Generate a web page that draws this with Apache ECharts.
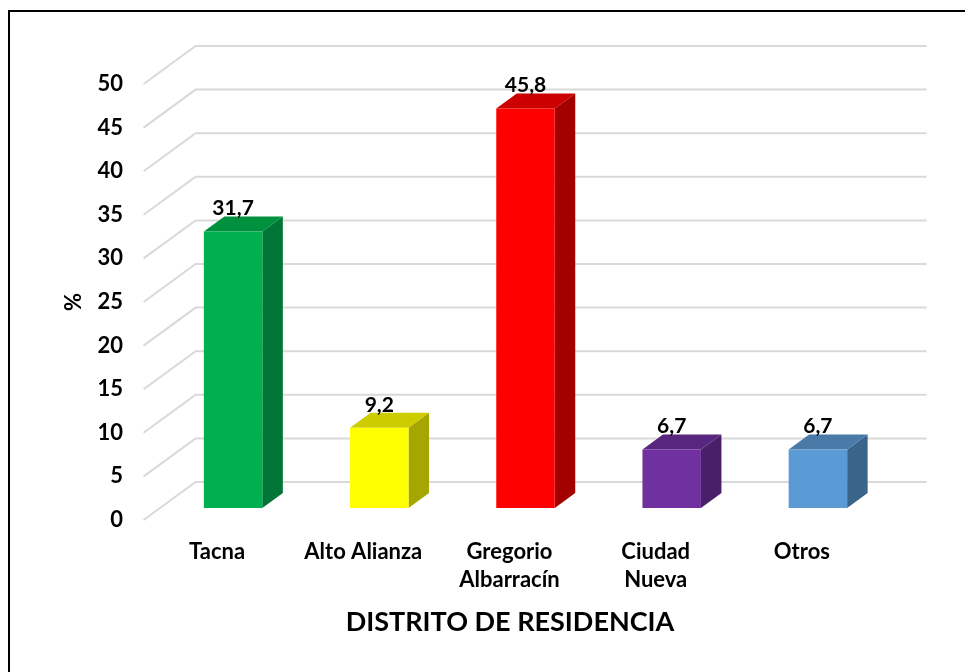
<!DOCTYPE html>
<html>
<head>
<meta charset="utf-8">
<script src="https://cdn.jsdelivr.net/npm/echarts@6/dist/echarts.min.js"></script>
<style>
  html, body { margin: 0; padding: 0; background: #fff; }
  #main { width: 965px; height: 672px; }
</style>
</head>
<body>
<div id="main"></div>
<script>
// datos
var categorias = ['Tacna', 'Alto Alianza', 'Gregorio\nAlbarracín', 'Ciudad\nNueva', 'Otros'];
var porcentajes = [31.7, 9.2, 45.8, 6.7, 6.7];
var ticks = [0, 5, 10, 15, 20, 25, 30, 35, 40, 45, 50];

var frontColor = ['#00B050', '#FFFF00', '#FF0000', '#7030A0', '#5B9BD5'];
var topColor = ['#00913F', '#CCCC00', '#CC0000', '#59267F', '#4A7BA8'];
var sideColor = ['#007535', '#A6A600', '#A30000', '#4A1F69', '#3A6489'];

var FONT = 'Lato, "Open Sans", sans-serif';

var myChart = echarts.init(document.getElementById('main'));

// lineas del piso/pared + etiquetas del eje en el plano frontal
function gridLines(params, api) {
  var v = api.value(0);
  var y = api.coord([0, v])[1];
  var cs = params.coordSys;
  return {
    type: 'group',
    children: [
      {
        type: 'polyline',
        shape: {
          points: [
            [cs.x - 16.4, y + 12],
            [cs.x + 35.6, y - 26],
            [cs.x + cs.width + 35.6, y - 26]
          ]
        },
        style: { stroke: '#D9D9D9', lineWidth: 2, fill: null },
        silent: true
      },
      {
        type: 'text',
        x: cs.x - 37,
        y: y + 12,
        style: {
          text: String(v),
          align: 'right',
          verticalAlign: 'middle',
          font: 'bold 22px ' + FONT,
          fill: '#000'
        }
      }
    ]
  };
}

function barras(params, api) {
  var i = api.value(0);
  var val = api.value(1);
  var top = api.coord([i, val]);
  var base = api.coord([i, 0]);
  var w = api.size([1, 0])[0] * 0.4;
  var x0 = top[0] - w / 2, x1 = top[0] + w / 2;
  var dx = 20.5, dy = -15;
  return {
    type: 'group',
    children: [
      {
        type: 'polygon',
        shape: { points: [[x1, top[1]], [x1 + dx, top[1] + dy], [x1 + dx, base[1] + dy], [x1, base[1]]] },
        style: { fill: sideColor[i] }
      },
      {
        type: 'polygon',
        shape: { points: [[x0, top[1]], [x0 + dx, top[1] + dy], [x1 + dx, top[1] + dy], [x1, top[1]]] },
        style: { fill: topColor[i] }
      },
      {
        type: 'rect',
        shape: { x: x0, y: top[1], width: w, height: base[1] - top[1] },
        style: { fill: frontColor[i] }
      },
      {
        type: 'text',
        x: top[0],
        y: top[1] - 23,
        style: {
          text: String(porcentajes[i]).replace('.', ','),
          align: 'center',
          verticalAlign: 'middle',
          font: 'bold 21px ' + FONT,
          fill: '#000'
        }
      }
    ]
  };
}

myChart.setOption({
  backgroundColor: '#fff',
  animation: false,
  grid: {
    left: 160,
    width: 731,
    top: 72,
    bottom: 164
  },
  xAxis: {
    type: 'category',
    data: categorias,
    axisLine: { show: false },
    axisTick: { show: false },
    axisLabel: {
      interval: 0,
      margin: 30,
      color: '#000',
      fontFamily: FONT,
      fontWeight: 'bold',
      fontSize: 22,
      lineHeight: 28,
      padding: [0, 32, 0, 0]
    }
  },
  yAxis: {
    type: 'value',
    min: 0,
    max: 50,
    interval: 5,
    axisLine: { show: false },
    axisTick: { show: false },
    splitLine: { show: false },
    axisLabel: { show: false }
  },
  graphic: [
    {
      type: 'rect',
      shape: { x: 9, y: 11, width: 980, height: 700 },
      style: { fill: null, stroke: '#000', lineWidth: 2 },
      silent: true
    },
    {
      type: 'text',
      x: 74,
      y: 302,
      rotation: Math.PI / 2,
      style: {
        text: '%',
        align: 'center',
        verticalAlign: 'middle',
        font: 'bold 22px ' + FONT,
        fill: '#000'
      }
    },
    {
      type: 'text',
      x: 510,
      y: 622,
      style: {
        text: 'DISTRITO DE RESIDENCIA',
        align: 'center',
        verticalAlign: 'middle',
        font: 'bold 27px ' + FONT,
        fill: '#000'
      }
    }
  ],
  series: [
    {
      type: 'custom',
      renderItem: gridLines,
      data: ticks.map(function (t) { return [t]; }),
      encode: { y: 0 },
      z: 1
    },
    {
      type: 'custom',
      renderItem: barras,
      data: porcentajes.map(function (v, i) { return [i, v]; }),
      encode: { x: 0, y: 1 },
      z: 2
    }
  ]
});
</script>
</body>
</html>
